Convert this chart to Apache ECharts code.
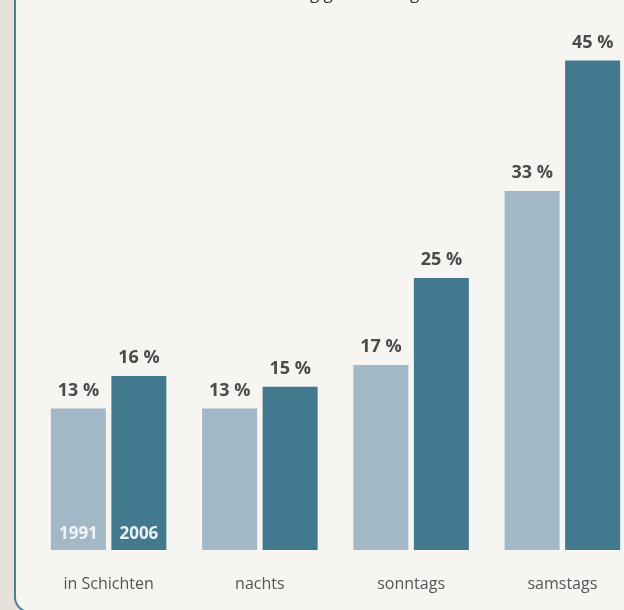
<!DOCTYPE html>
<html>
<head>
<meta charset="utf-8">
<script src="https://cdn.jsdelivr.net/npm/echarts@6/dist/echarts.min.js"></script>
<style>
html,body{margin:0;padding:0;background:#e6e2db;}
#chart{width:624px;height:610px;}
</style>
</head>
<body>
<div id="chart"></div>
<script>
const categories = ['in Schichten', 'nachts', 'sonntags', 'samstags'];
const years = ['1991', '2006'];
const values1991 = [13, 13, 17, 33];
const values2006 = [16, 15, 25, 45];
const titleText = 'Anteil der abhängig Beschäftigten';

const chart = echarts.init(document.getElementById('chart'));
const FONT = '"Open Sans", "Noto Sans", sans-serif';

function makeSeries(name, data, color, textColor) {
  return {
    name: name,
    type: 'bar',
    data: data,
    barWidth: 55,
    barGap: '10%',
    itemStyle: { color: color },
    label: {
      show: true,
      position: 'top',
      distance: 9,
      formatter: '{c} %',
      color: '#4b4b4b',
      fontWeight: 'bold',
      fontSize: 18,
      fontFamily: FONT
    },
    markPoint: {
      symbol: 'rect',
      symbolSize: [1, 1],
      itemStyle: { color: 'rgba(0,0,0,0)' },
      label: {
        show: true,
        position: 'top',
        distance: 7,
        formatter: '{b}',
        color: textColor,
        fontWeight: 'bold',
        fontSize: 17,
        fontFamily: FONT
      },
      data: [{ name: name, coord: [categories[0], 0] }]
    }
  };
}

chart.setOption({
  backgroundColor: '#e6e2db',
  animation: false,
  title: {
    text: titleText,
    left: 'center',
    top: -19,
    textStyle: { color: '#333', fontSize: 17, fontWeight: 'normal', fontFamily: FONT }
  },
  graphic: [
    {
      type: 'rect',
      z: -10,
      shape: { x: 15, y: -20, width: 640, height: 632, r: 15 },
      style: { fill: '#f6f5f2', stroke: '#4a8096', lineWidth: 2 }
    }
  ],
  grid: { left: 33, right: -14, top: 6, bottom: 60, containLabel: false, outerBoundsMode: 'none' },
  xAxis: {
    type: 'category',
    data: categories,
    axisLine: { show: false },
    axisTick: { show: false },
    axisLabel: {
      color: '#555',
      fontSize: 16,
      margin: 26,
      fontFamily: FONT
    }
  },
  yAxis: {
    type: 'value',
    min: 0,
    max: 50,
    show: false,
    splitLine: { show: false }
  },
  series: [
    makeSeries(years[0], values1991, '#a3b8c6', '#eef2f5'),
    makeSeries(years[1], values2006, '#43798e', '#eaf1f4')
  ]
});
</script>
</body>
</html>
